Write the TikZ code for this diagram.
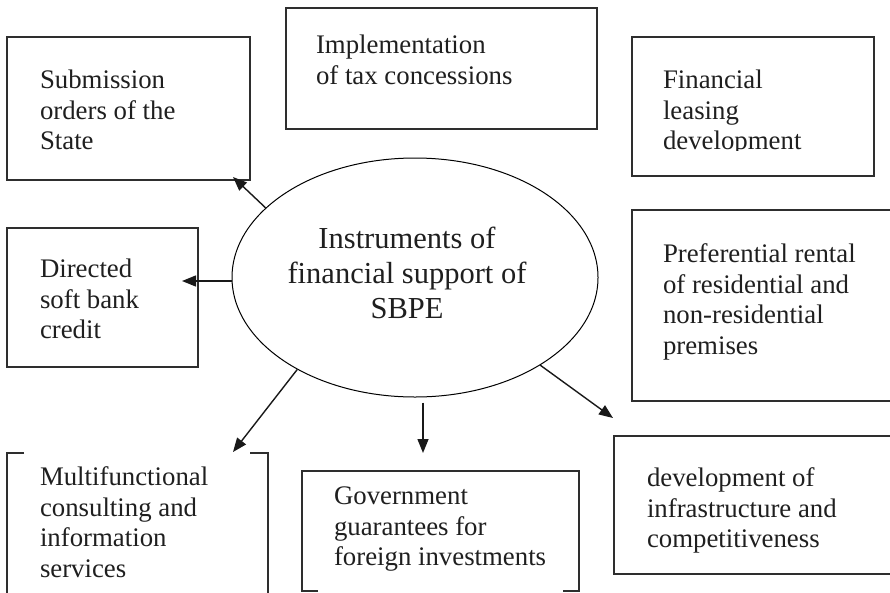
\documentclass[tikz,border=0pt]{standalone}
\usepackage{fontspec}
\setmainfont{Liberation Serif}
\usetikzlibrary{shapes.geometric,arrows.meta,calc}
\begin{document}
\begin{tikzpicture}[x=1pt,y=-1pt,
  boxline/.style={draw=black!82,line width=1.2pt},
  boxnode/.style={boxline,rectangle,inner sep=0pt,outer sep=0pt},
  ghost/.style={rectangle,inner sep=0pt,outer sep=0pt},
  txt/.style={anchor=north west,inner sep=0pt,outer sep=0pt,align=left,text=black!88,font=\fontsize{26.8}{30.5}\selectfont},
  arr/.style={-{Triangle[length=14pt,width=11pt]},line width=1.4pt,draw=black!90},
]
\useasboundingbox (0,0) rectangle (890,592);

% boxes
\node[boxnode,minimum width=243pt,minimum height=143pt] (sub)  at (128.5,108.5) {};
\node[boxnode,minimum width=311pt,minimum height=121pt] (impl) at (441.5,68.5) {};
\node[boxnode,minimum width=242pt,minimum height=139pt] (fin)  at (753,106.5) {};
\node[boxnode,minimum width=263pt,minimum height=191pt] (pref) at (763.5,305.5) {};
\node[boxnode,minimum width=191pt,minimum height=139pt] (dir)  at (102.5,297.5) {};
\node[ghost,minimum width=261pt,minimum height=167pt] (multi) at (137.5,536.5) {};
\node[ghost,minimum width=277pt,minimum height=120pt] (gov)   at (440.5,531) {};
\node[boxnode,minimum width=281pt,minimum height=138pt] (dev)  at (754.5,505) {};

% partial frames
\draw[boxline] ([xshift=17pt]multi.north west) -- (multi.north west) -- (multi.south west);
\draw[boxline] ([xshift=-18pt]multi.north east) -- (multi.north east) -- (multi.south east);
\draw[boxline] ([xshift=16pt]gov.south west) -- (gov.south west) -- (gov.north west)
  -- (gov.north east) -- (gov.south east) -- ([xshift=-16pt]gov.south east);

% texts
\node[txt] (subtxt)  at (40,70)   {Submission\\orders of the\\State};
\node[txt] (impltxt) at (316,35)  {Implementation\\of tax concessions};
\begin{scope}
\clip (632,37) rectangle (874,150.5);
\node[txt] (fintxt)  at (663,70)  {Financial\\leasing\\development};
\end{scope}
\node[txt] (preftxt) at (663,244) {Preferential rental\\of residential and\\non-residential\\premises};
\node[txt] (dirtxt)  at (40,259)  {Directed\\soft bank\\credit};
\node[txt] (multitxt) at (40,467) {Multifunctional\\consulting and\\information\\services};
\node[txt] (govtxt)  at (334,487) {Government\\guarantees for\\foreign investments};
\node[txt] (devtxt)  at (647,468) {development of\\infrastructure and\\competitiveness};

% central ellipse
\node[draw=black,ellipse,line width=1pt,minimum width=366pt,minimum height=239pt,inner sep=0pt] (ell) at (415,277.5) {};
\node[anchor=north,inner sep=0pt,align=center,text=black!88,font=\fontsize{30.5}{35}\selectfont] (elltxt) at (407,227) {Instruments of\\financial support of\\SBPE};

% arrow tips
\coordinate (tsub) at (233,177);
\coordinate (tdir) at (182,281);
\coordinate (tmulti) at (233,452);
\coordinate (tgov) at (423,453);
\coordinate (tdev) at (613,418);

% connectors
\draw[arr] (ell.155) -- (tsub);
\draw[arr] (tdir -| ell.west) -- (tdir);
\draw[arr] (ell.218) -- (tmulti);
\draw[arr,shorten <=5pt] (tgov |- ell.south) -- (tgov);
\draw[arr] (ell.325) -- (tdev);
\end{tikzpicture}
\end{document}
